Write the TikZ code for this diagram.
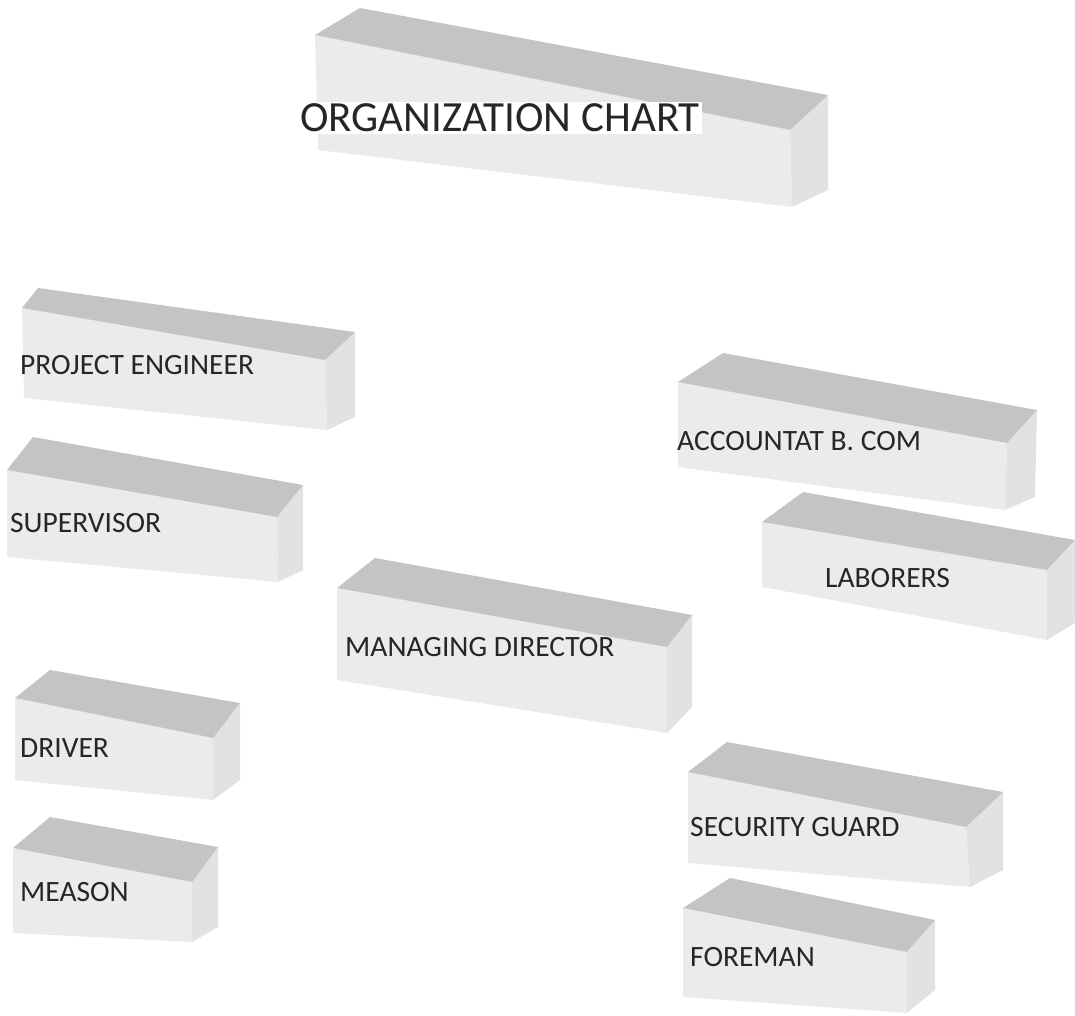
\documentclass[tikz,border=0pt]{standalone}
\usepackage{fontspec}
\setmainfont{Carlito}
\definecolor{topface}{HTML}{C4C4C4}
\definecolor{frontface}{HTML}{EBEBEB}
\definecolor{sideface}{HTML}{E2E2E2}
\definecolor{labelink}{HTML}{262626}
\newcommand{\pblock}[7]{%
  % #1 back-left top, #2 back-right top, #3 front-right top, #4 front-left top,
  % #5 front-right bottom, #6 front-left bottom, #7 back-right bottom
  \fill[frontface] #4 -- #3 -- #5 -- #6 -- cycle;
  \fill[sideface] #3 -- #2 -- #7 -- #5 -- cycle;
  \fill[topface] #1 -- #2 -- #3 -- #4 -- cycle;
}
\tikzset{
  lbl/.style={anchor=west, inner sep=0pt, text=labelink, font=\fontsize{29.5}{34}\selectfont},
  ttl/.style={anchor=west, inner sep=2pt, fill=white, text=labelink, font=\fontsize{43}{50}\selectfont}
}
\begin{document}
\begin{tikzpicture}[x=1pt,y=-1pt]
\useasboundingbox (0,0) rectangle (1075,1016);
% title
\pblock{(360,8)}{(828,95)}{(790,130)}{(315,35)}{(792,207)}{(318,150)}{(828,190)}
% project engineer
\pblock{(38,288)}{(355,332)}{(325,360)}{(22,308)}{(327,430)}{(24,398)}{(355,417)}
% supervisor
\pblock{(33,437)}{(303,485)}{(277,517)}{(7,470)}{(278,582)}{(7,557)}{(303,570)}
% managing director
\pblock{(375,558)}{(692,615)}{(667,647)}{(337,588)}{(667,733)}{(337,680)}{(692,707)}
% accountat
\pblock{(723,353)}{(1037,410)}{(1007,443)}{(678,382)}{(1005,510)}{(678,467)}{(1035,497)}
% laborers
\pblock{(803,492)}{(1075,540)}{(1047,570)}{(762,522)}{(1047,640)}{(762,587)}{(1075,623)}
% driver
\pblock{(50,670)}{(240,703)}{(213,738)}{(15,698)}{(213,800)}{(15,780)}{(240,780)}
% meason
\pblock{(50,817)}{(218,847)}{(192,882)}{(13,848)}{(192,942)}{(13,933)}{(218,927)}
% security guard
\pblock{(727,742)}{(1003,792)}{(966,827)}{(688,772)}{(970,887)}{(688,863)}{(1003,870)}
% foreman
\pblock{(730,878)}{(935,920)}{(907,952)}{(683,908)}{(907,1013)}{(683,997)}{(935,990)}
% labels
\node[ttl] (title) at (298,118) {ORGANIZATION CHART};
\node[lbl] (pe) at (20,365) {PROJECT ENGINEER};
\node[lbl] (sup) at (10,523) {SUPERVISOR};
\node[lbl] (md) at (345,647) {MANAGING DIRECTOR};
\node[lbl] (acc) at (677,441) {ACCOUNTAT B. COM};
\node[lbl] (lab) at (825,578) {LABORERS};
\node[lbl] (drv) at (20,748) {DRIVER};
\node[lbl] (mea) at (20,892) {MEASON};
\node[lbl] (sec) at (690,827) {SECURITY GUARD};
\node[lbl] (for) at (690,957) {FOREMAN};
\end{tikzpicture}
\end{document}
